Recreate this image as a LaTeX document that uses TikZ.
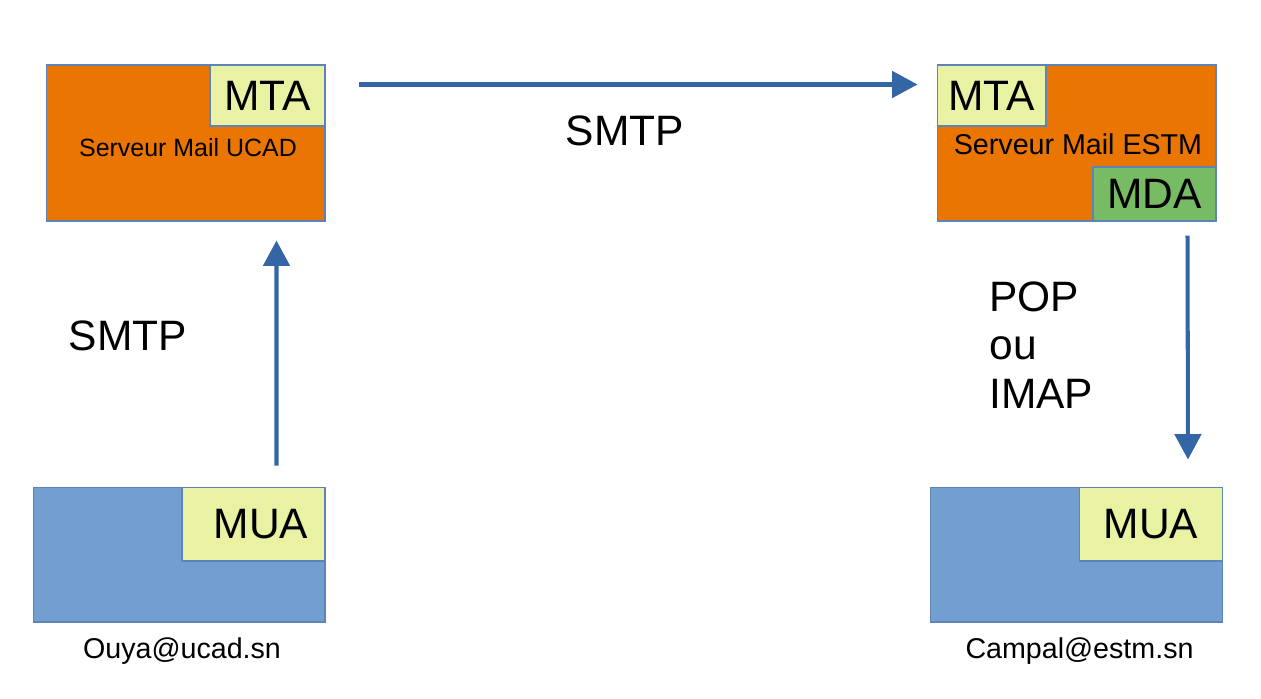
\documentclass[tikz,border=0pt]{standalone}
\usepackage{fontspec}
\setmainfont{Liberation Sans}
\usetikzlibrary{positioning}
\usetikzlibrary{calc}
\usetikzlibrary{arrows.meta}
\definecolor{srvorange}{RGB}{234,117,0}
\definecolor{agentyellow}{RGB}{233,242,163}
\definecolor{agentgreen}{RGB}{119,188,101}
\definecolor{clientblue}{RGB}{114,159,207}
\definecolor{linkblue}{RGB}{52,101,164}
\tikzset{
  box/.style      = { rectangle, inner sep=0pt, draw=linkblue!80!white, line width=0.6pt },
  big/.style      = { font=\fontsize{24.2}{27.5}\selectfont },
  small/.style    = { font=\fontsize{16.3}{19.5}\selectfont },
}
\tikzset{
  server/.style   = { box, fill=srvorange, minimum width=5.58cm, minimum height=3.12cm },
  client/.style   = { box, fill=clientblue, minimum width=5.84cm, minimum height=2.7cm },
  agent/.style    = { box, big, fill=agentyellow, minimum height=1.22cm },
  delivery/.style = { agent, fill=agentgreen, minimum height=1.08cm },
  flow/.style     = { draw=linkblue, line width=2.3pt, -{Triangle[width=15pt,length=14.5pt]} },
}
\begin{document}
\begin{tikzpicture}[x=0.02cm,y=-0.02cm]
  \useasboundingbox (0,0) rectangle (1261,698);

  \node (ucad)    [server] at (185.5,143)  {};
  \node (estm)    [server] at (1076.5,143) {};
  \node (clientL) [client] at (179,554.5)  {};
  \node (clientR) [client] at (1076.5,554.5) {};

  \node (mtaL) [agent,minimum width=2.3cm,anchor=north east]     at (ucad.north east) {MTA};
  \node (mtaR) [agent,minimum width=2.18cm,anchor=north west]    at (estm.north west) {MTA};
  \node (mda)  [delivery,minimum width=2.46cm,anchor=south east] at (estm.south east) {MDA};
  \node (muaL) [agent,minimum width=2.86cm,minimum height=1.48cm,anchor=north east] at (clientL.north east) {\hspace*{3mm}MUA};
  \node (muaR) [agent,minimum width=2.86cm,minimum height=1.48cm,anchor=north east] at (clientR.north east) {MUA};

  \node (ucadname) [font=\fontsize{14.2}{17}\selectfont] at ($(ucad.center)+(2.5,5)$) {Serveur Mail UCAD};
  \node (estmname) [small] at ($(estm.center)+(1.5,1)$) {Serveur Mail ESTM};

  \node (ouya)   [small,below=5pt of clientL,xshift=0.6mm] {Ouya@ucad.sn};
  \node (campal) [small,below=5pt of clientR,xshift=0.6mm] {Campal@estm.sn};

  \draw [flow] ($(ucad.north east)+(33,20)$) -- ($(estm.north west)+(-19,20)$)
    node [midway,big,xshift=-2.6mm,yshift=-9.2mm] (smtpT) {SMTP};
  \draw [flow] ($(clientL.north west)+(244,-21)$) -- ($(ucad.south west)+(231,19)$);
  \draw [flow] ($(estm.south west)+(251,14)$) -- ($(clientR.north west)+(258,-27)$);

  \node (smtpL)  [big] at (128,336) {SMTP};
  \node (access) [big,align=left,anchor=west,inner sep=0pt] at (989,345) {POP\\ou\\IMAP};
\end{tikzpicture}
\end{document}
